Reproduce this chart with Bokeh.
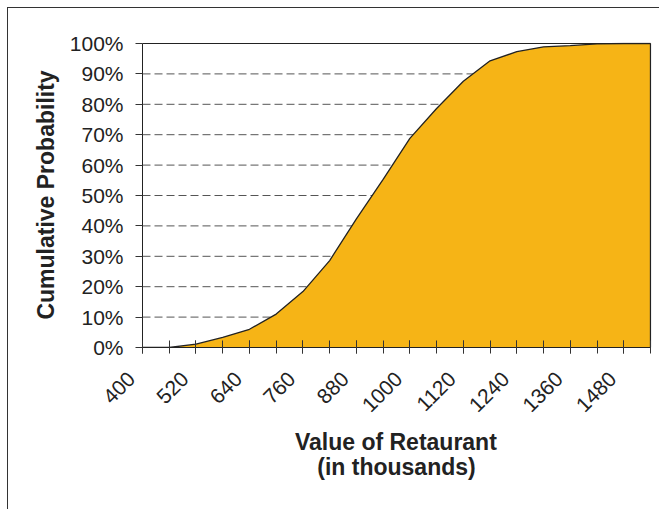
import math
from bokeh.plotting import figure
from bokeh.models import (FixedTicker, NumeralTickFormatter, Range1d, LinearAxis,
                          CustomJSTickFormatter, Title)
from bokeh.embed import file_html
from bokeh.resources import INLINE

# Data
values = [400, 460, 520, 580, 640, 700, 760, 820, 880, 940,
          1000, 1060, 1120, 1180, 1240, 1300, 1360, 1420, 1480, 1540]
cum_prob = [0.0, 0.0, 0.011, 0.033, 0.060, 0.110, 0.184, 0.286, 0.423, 0.553,
            0.688, 0.786, 0.876, 0.943, 0.973, 0.989, 0.993, 0.999, 1.0, 1.0]
x_labels = [400, 520, 640, 760, 880, 1000, 1120, 1240, 1360, 1480]
y_ticks = [0.0, 0.1, 0.2, 0.3, 0.4, 0.5, 0.6, 0.7, 0.8, 0.9, 1.0]
x_title = ["Value of Retaurant", "(in thousands)"]

FONT = "Liberation Sans"
OX, OY = 8, 8              # canvas origin inside the page (outer chart border)
PLOT_W, PLOT_H = 508, 304  # pixel size of the value area (400..1540, 0..100%)
PAD_L, PAD_R, PAD_T = 12, 1, 1
LABEL_SHIFT_PX = 11        # rotated labels end a little left of their tick
ppx = PLOT_W / (values[-1] - values[0])
ppy = PLOT_H / (y_ticks[-1] - y_ticks[0])
shift = LABEL_SHIFT_PX / ppx

x_range = Range1d(values[0] - PAD_L / ppx, values[-1] + PAD_R / ppx)
y_range = Range1d(y_ticks[0], y_ticks[-1] + PAD_T / ppy)

p = figure(width=659 - OX, height=509 - OY, output_backend="svg", toolbar_location=None,
           x_range=x_range, y_range=y_range,
           min_border_left=142 - PAD_L - OX, min_border_right=659 - OX - (142 - OX) - PLOT_W - PAD_R,
           min_border_top=43 - PAD_T - OY, min_border_bottom=509 - 347)
p.styles = {"margin-left": f"{OX}px", "margin-top": f"{OY}px",
            "outline": "1.5px solid #333333"}

p.background_fill_color = "white"
p.border_fill_color = "white"
p.outline_line_color = None
p.xgrid.visible = False
p.ygrid.visible = False

# dashed grid lines between the axes
grid_y = y_ticks[1:-1]
p.segment(x0=[values[0]] * len(grid_y), x1=[values[-1]] * len(grid_y), y0=grid_y, y1=grid_y,
          line_color="#555555", line_dash="8 4", line_width=1)

# area
p.varea(x=values, y1=[0] * len(values), y2=cum_prob, fill_color="#F6B416")
p.line(x=values, y=cum_prob, line_color="#222222", line_width=1.3)
p.line(x=[values[-1], values[-1]], y=[0, cum_prob[-1]], line_color="#222222", line_width=1.3)
# top border of the plot area and the value axis line
p.line(x=[values[0], values[-1]], y=[y_ticks[-1], y_ticks[-1]], line_color="#222222", line_width=1)
p.line(x=[values[0], values[0]], y=[y_ticks[0], y_ticks[-1]], line_color="#222222", line_width=1)

# x axis A: line and tick marks at every category
xa = p.xaxis[0]
xa.bounds = (values[0], values[-1])
xa.ticker = FixedTicker(ticks=x_labels, minor_ticks=values)
xa.major_label_overrides = {v: "" for v in x_labels}
xa.major_label_standoff = 0
xa.major_tick_in = 7
xa.major_tick_out = 6
xa.minor_tick_in = 7
xa.minor_tick_out = 6
xa.major_tick_line_color = "#333333"
xa.minor_tick_line_color = "#333333"
xa.axis_line_color = "#222222"

# x axis B: rotated labels (sitting slightly left of the ticks)
xb = LinearAxis(ticker=FixedTicker(ticks=[v - shift for v in x_labels], minor_ticks=[]),
                formatter=CustomJSTickFormatter(args=dict(shift=shift),
                                                code="return String(Math.round(tick + shift))"))
xb.axis_line_color = None
xb.major_tick_line_color = None
xb.minor_tick_line_color = None
xb.major_tick_in = 0
xb.major_tick_out = 0
xb.major_label_orientation = math.pi / 4
xb.major_label_text_font = FONT
xb.major_label_text_font_size = "21px"
xb.major_label_text_color = "#222222"
xb.major_label_standoff = 22
p.add_layout(xb, "below")

# x title, two lines, centred on the value area
title_w = {x_title[0]: 8.835, x_title[1]: 6.889}  # Arial-bold advance widths in em
center_off = PAD_L + PLOT_W / 2
for i, line in enumerate(x_title):
    t = Title(text=line, align="left", offset=center_off - title_w[line] * 23 / 2,
              text_font=FONT, text_font_size="23px", text_font_style="bold",
              text_color="#222222", standoff=10 if i == 0 else -16, text_line_height=1.0)
    p.add_layout(t, "below")

# y axis: kept in the left panel; ticks pushed right onto the value axis line
ya = p.yaxis[0]
ya.bounds = (y_ticks[0], y_ticks[-1])
ya.ticker = FixedTicker(ticks=y_ticks, minor_ticks=[])
ya.formatter = NumeralTickFormatter(format="0%")
ya.axis_line_color = None
ya.major_tick_in = PAD_L
ya.major_tick_out = 7 - PAD_L
ya.major_tick_line_color = "#333333"
ya.major_label_text_font = FONT
ya.major_label_text_font_size = "21px"
ya.major_label_text_color = "#222222"
ya.major_label_standoff = 7
ya.axis_label = "Cumulative Probability"
ya.axis_label_text_font = FONT
ya.axis_label_text_font_size = "23px"
ya.axis_label_text_font_style = "bold"
ya.axis_label_text_color = "#222222"
ya.axis_label_standoff = 8

open("out.html", "w").write(file_html(p, INLINE))
